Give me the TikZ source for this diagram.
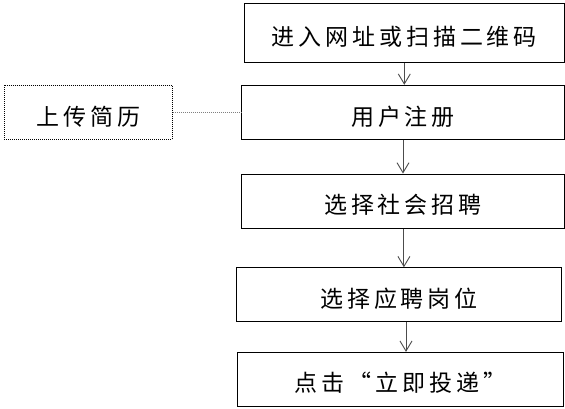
\documentclass[tikz,border=0pt]{standalone}
\usepackage{fontspec}
\setmainfont{Noto Sans CJK SC}[LetterSpace=17]
\usetikzlibrary{arrows.meta,calc}
\newcommand\lowtext[1]{\raisebox{-4pt}[\height][\depth]{#1}}
\begin{document}
\begin{tikzpicture}[x=1pt,y=-1pt,
  flowbox/.style={draw=black,line width=1pt,rectangle,inner sep=0pt,
    font=\fontsize{23pt}{26pt}\selectfont,text=black},
  sidebox/.style={flowbox,dash pattern=on 1pt off 1pt},
  arr/.style={draw=black!70,line width=0.9pt,-{Straight Barb[length=10pt,width=12pt,line width=0.9pt]}},
  dotline/.style={draw=black!50,line width=1.2pt,dash pattern=on 1pt off 1pt}]
\useasboundingbox (0,0) rectangle (565,409);
\node[flowbox,minimum width=320pt,minimum height=59pt] (b1) at (404.3,32.8) {\lowtext{进入网址或扫描二维码}};
\node[flowbox,minimum width=322.3pt,minimum height=54pt] (b2) at (403,112.3) {\lowtext{用户注册}};
\node[flowbox,minimum width=322.3pt,minimum height=54.3pt] (b3) at (402.9,201.2) {\lowtext{选择社会招聘}};
\node[flowbox,minimum width=325.4pt,minimum height=53.3pt] (b4) at (399,294.4) {\lowtext{选择应聘岗位}};
\node[flowbox,minimum width=325.6pt,minimum height=53.7pt] (b5) at (400.5,379.2) {\lowtext{点击“立即投递”}};
\node[sidebox,minimum width=168pt,minimum height=54pt] (up) at (88.3,112.3) {\lowtext{上传简历}};
\coordinate (a3) at ($(b3.south)+(1,0)$);
\coordinate (a4) at ($(b4.south)+(7,0)$);
\draw[arr] (b1.south) -- (b1.south |- b2.north);
\draw[arr] (b2.south) -- (b2.south |- b3.north);
\draw[arr] (a3) -- (a3 |- b4.north);
\draw[arr] (a4) -- (a4 |- b5.north);
\draw[dotline] (up.east) -- (b2.west);
\end{tikzpicture}
\end{document}
